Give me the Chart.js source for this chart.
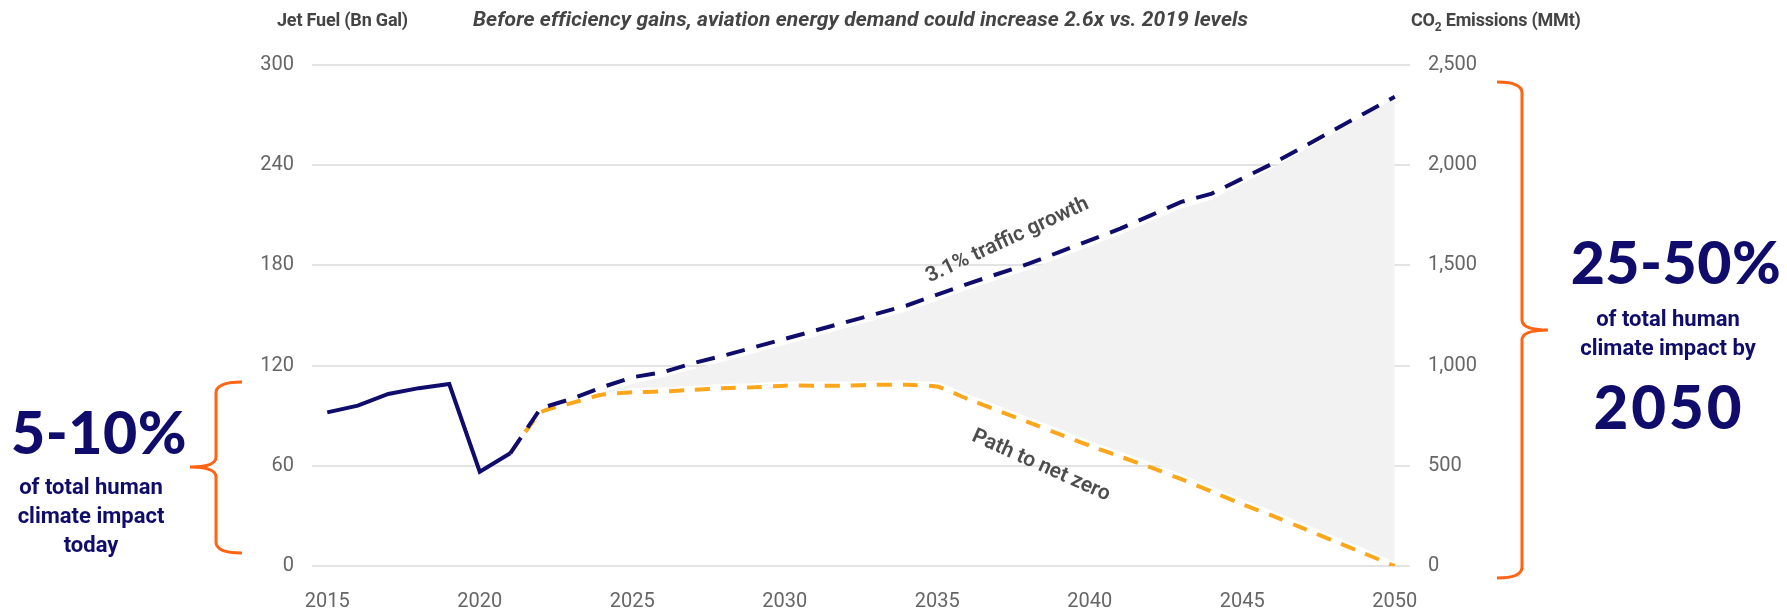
<!DOCTYPE html>
<html>
<head>
<meta charset="utf-8">
<script src="https://cdn.jsdelivr.net/npm/chart.js@4.4.1/dist/chart.umd.min.js"></script>
<style>
  body { margin: 0; background: #fff; }
  #wrap { position: relative; width: 1787px; height: 610px; overflow: hidden; font-family: Roboto, sans-serif; }
  #wrap canvas { position: absolute; left: 0; top: 0; }
  .t { position: absolute; white-space: nowrap; }
  .axt { top: 9px; font-weight: 700; font-size: 18px; color: #444; letter-spacing: -0.2px; }
  .sub { top: 7px; left: 469px; width: 783px; text-align: center; font-style: italic; font-weight: 700; font-size: 21px; color: #444; letter-spacing: 0.1px; }
  .big { font-family: Lato, sans-serif; font-weight: 900; color: #0f0c6b; text-align: center; }
  .note { font-family: Roboto, sans-serif; font-weight: 700; color: #0f0c6b; font-size: 22px; line-height: 29px; text-align: center; }
  svg { position: absolute; left: 0; top: 0; }
</style>
</head>
<body>
<div id="wrap">
  <canvas id="c" width="1787" height="610"></canvas>
  <svg width="1787" height="610">
    <path d="M242 382 Q216 382 216 393 L216 457 Q216 467 190 467 Q216 467 216 477 L216 542 Q216 553 242 553" fill="none" stroke="#ff6414" stroke-width="3"/>
    <path d="M1497 82 Q1522 82 1522 93 L1522 320 Q1522 330 1548 330 Q1522 330 1522 340 L1522 567 Q1522 578 1497 578" fill="none" stroke="#ff6414" stroke-width="3"/>
  </svg>
  <div class="t axt" style="left:277px">Jet Fuel (Bn Gal)</div>
  <div class="t sub">Before efficiency gains, aviation energy demand could increase 2.6x vs. 2019 levels</div>
  <div class="t axt" style="left:1411px">CO<sub style="font-size:12px">2</sub> Emissions (MMt)</div>
  <div class="t big" style="left:0px;width:198px;top:396px;font-size:59px;letter-spacing:0.5px;">5-10%</div>
  <div class="t note" style="left:0px;width:182px;top:472px;">of total human<br>climate impact<br>today</div>
  <div class="t big" style="left:1560px;width:232px;top:226px;font-size:59px;letter-spacing:0.5px;">25-50%</div>
  <div class="t note" style="left:1552px;width:232px;top:304px;">of total human<br>climate impact by</div>
  <div class="t big" style="left:1553px;width:232px;top:370px;font-size:60px;letter-spacing:3px;">2050</div>
</div>
<script>
// years on the x axis
var years = [];
for (var y = 2015; y <= 2050; y++) years.push(y);
var xTickYears = [2015, 2020, 2025, 2030, 2035, 2040, 2045, 2050];

// jet fuel, Bn gal (left axis); history 2015-2021 then 3.1% traffic growth
var trafficGrowth = [92, 96, 103, 106.5, 109, 56.5, 67.5,
  94.5, 100, 107, 113, 116, 121.5, 126, 131, 136, 141, 146, 151, 156, 162.5,
  169, 175, 181, 188, 195, 202, 210, 218, 223, 232, 241, 251, 261, 271, 281];

// path to net zero, 2021-2050
var netZeroStart = 2021;
var netZero = [67.5, 92, 97.5, 102.5, 104, 104.5, 105.5, 106.5, 107, 108, 108, 108, 108.5, 108.5, 107.5,
  100, 93, 86, 79, 72, 65.5, 59, 52, 44.5, 37, 30, 22.5, 15, 7.5, 0];

// grey gap band between the two paths, 2024-2050
var bandStart = 2024;
var bandTop = [104, 109, 113, 118, 122.5, 127.5, 132.5, 137.5, 142.5, 147.5, 152.5, 159, 165.5, 171.5,
  177.5, 184.5, 191.5, 198.5, 206.5, 214, 219.5, 229, 238.5, 248.5, 259, 269.5, 280];
var bandBottom = [103, 106.5, 107, 108, 109, 109.5, 110.5, 110.5, 110.5, 111, 111, 110, 103, 96, 89,
  82, 75, 68.5, 62, 55, 47.5, 40, 33, 25.5, 18, 10.5, 2.5];

// line labels placed in data units
var lineLabels = [
  { text: "3.1% traffic growth", year: 2037.3, value: 195, angle: -25 },
  { text: "Path to net zero", year: 2038.4, value: 60, angle: 24 }
];

function pad(start, arr) {
  return years.map(function (yr) {
    var i = yr - start;
    return (i >= 0 && i < arr.length) ? arr[i] : null;
  });
}

var navy = "#0f0c6b";
var orange = "#fca61c";
var tickFont = { family: "Roboto", size: 20 };

var labelPlugin = {
  id: "lineLabels",
  afterDatasetsDraw: function (chart) {
    var ctx = chart.ctx;
    var xs = chart.scales.x, ys = chart.scales.y;
    ctx.save();
    ctx.font = "600 21px Roboto";
    ctx.fillStyle = "#4d4d4d";
    ctx.textAlign = "center";
    ctx.textBaseline = "middle";
    lineLabels.forEach(function (l) {
      var px = xs.getPixelForValue(l.year - years[0]);
      var py = ys.getPixelForValue(l.value);
      ctx.save();
      ctx.translate(px, py);
      ctx.rotate(l.angle * Math.PI / 180);
      ctx.fillText(l.text, 0, 0);
      ctx.restore();
    });
    ctx.restore();
  }
};

new Chart(document.getElementById("c").getContext("2d"), {
  type: "line",
  data: {
    labels: years,
    datasets: [
      {
        label: "3.1% traffic growth",
        data: trafficGrowth,
        borderColor: navy,
        borderWidth: 4,
        pointRadius: 0,
        tension: 0,
        fill: false,
        segment: {
          borderDash: function (c) { return c.p0DataIndex >= 6 ? [19, 12] : undefined; }
        }
      },
      {
        label: "Path to net zero",
        data: pad(netZeroStart, netZero),
        borderColor: orange,
        borderWidth: 4,
        borderDash: [15, 11],
        pointRadius: 0,
        tension: 0.15,
        fill: false
      },
      {
        label: "bandTop",
        data: pad(bandStart, bandTop),
        borderWidth: 0,
        borderColor: "rgba(0,0,0,0)",
        backgroundColor: "#f2f2f2",
        pointRadius: 0,
        tension: 0.15,
        fill: "+1"
      },
      {
        label: "bandBottom",
        data: pad(bandStart, bandBottom),
        borderWidth: 0,
        borderColor: "rgba(0,0,0,0)",
        pointRadius: 0,
        tension: 0.15,
        fill: false
      }
    ]
  },
  options: {
    responsive: false,
    animation: false,
    events: [],
    layout: { padding: { top: 65, left: 0, right: 0, bottom: 0 } },
    plugins: { legend: { display: false }, tooltip: { enabled: false } },
    scales: {
      x: {
        type: "category",
        offset: true,
        border: { display: false },
        grid: { display: false },
        ticks: {
          autoSkip: false,
          maxRotation: 0,
          padding: 16,
          color: "#666",
          font: tickFont,
          callback: function (v, i) {
            return xTickYears.indexOf(years[i]) >= 0 ? String(years[i]) : null;
          }
        },
        afterFit: function (s) { s.height = 44; }
      },
      y: {
        position: "left",
        min: 0,
        max: 300,
        border: { display: false },
        grid: { color: "#e3e3e3", lineWidth: 2, drawTicks: false },
        ticks: { stepSize: 60, padding: 18, color: "#666", font: tickFont },
        afterFit: function (s) { s.width = 312; }
      },
      y1: {
        position: "right",
        min: 0,
        max: 2500,
        border: { display: false },
        grid: { drawOnChartArea: false, drawTicks: false },
        ticks: { stepSize: 500, padding: 18, color: "#666", font: tickFont },
        afterFit: function (s) { s.width = 377; }
      }
    }
  },
  plugins: [labelPlugin]
});
</script>
</body>
</html>
